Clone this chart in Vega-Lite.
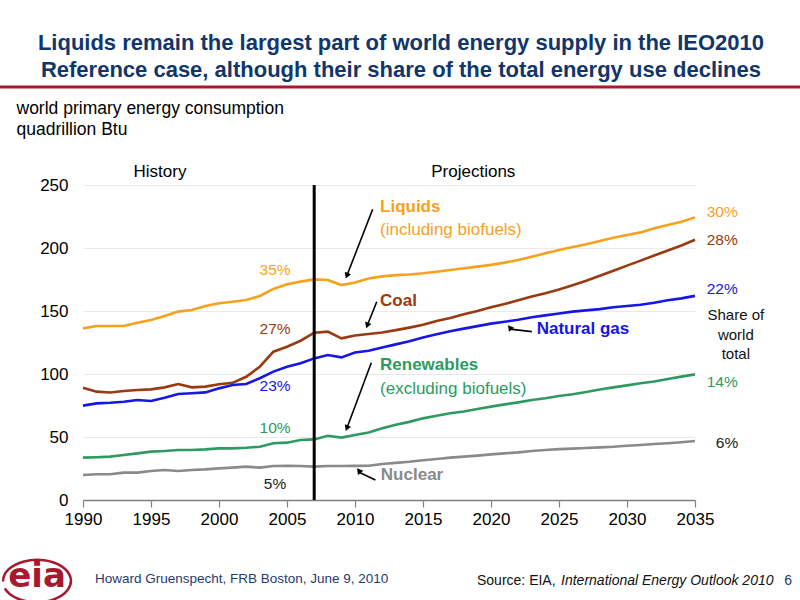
{
  "$schema": "https://vega.github.io/schema/vega-lite/v6.json",
  "width": 612,
  "height": 315,
  "autosize": {"type": "none"},
  "padding": {"left": 83, "top": 185, "right": 105, "bottom": 100},
  "background": "white",
  "config": {"view": {"stroke": null}, "font": "Liberation Sans", "text": {"font": "Liberation Sans"}},
  "datasets": {
    "energy": [
      {"year": 1990, "Liquids": 136.2, "Coal": 89.0, "Natural gas": 74.9, "Renewables": 33.6, "Nuclear": 19.8},
      {"year": 1991, "Liquids": 138.1, "Coal": 86.0, "Natural gas": 76.7, "Renewables": 33.9, "Nuclear": 20.4},
      {"year": 1992, "Liquids": 138.1, "Coal": 85.3, "Natural gas": 77.2, "Renewables": 34.4, "Nuclear": 20.4},
      {"year": 1993, "Liquids": 138.1, "Coal": 86.5, "Natural gas": 78.0, "Renewables": 35.7, "Nuclear": 21.7},
      {"year": 1994, "Liquids": 140.7, "Coal": 87.3, "Natural gas": 79.4, "Renewables": 37.0, "Nuclear": 21.7},
      {"year": 1995, "Liquids": 142.9, "Coal": 87.8, "Natural gas": 78.6, "Renewables": 38.4, "Nuclear": 23.0},
      {"year": 1996, "Liquids": 146.0, "Coal": 89.4, "Natural gas": 81.2, "Renewables": 38.9, "Nuclear": 23.8},
      {"year": 1997, "Liquids": 149.5, "Coal": 92.0, "Natural gas": 84.1, "Renewables": 39.7, "Nuclear": 23.0},
      {"year": 1998, "Liquids": 150.8, "Coal": 89.4, "Natural gas": 84.7, "Renewables": 39.7, "Nuclear": 23.8},
      {"year": 1999, "Liquids": 154.0, "Coal": 90.0, "Natural gas": 85.4, "Renewables": 40.2, "Nuclear": 24.3},
      {"year": 2000, "Liquids": 156.1, "Coal": 91.8, "Natural gas": 88.6, "Renewables": 41.0, "Nuclear": 25.1},
      {"year": 2001, "Liquids": 157.4, "Coal": 93.0, "Natural gas": 91.3, "Renewables": 41.0, "Nuclear": 25.7},
      {"year": 2002, "Liquids": 158.7, "Coal": 97.8, "Natural gas": 92.1, "Renewables": 41.5, "Nuclear": 26.5},
      {"year": 2003, "Liquids": 161.9, "Coal": 105.8, "Natural gas": 96.6, "Renewables": 42.3, "Nuclear": 25.7},
      {"year": 2004, "Liquids": 167.5, "Coal": 117.7, "Natural gas": 101.9, "Renewables": 45.0, "Nuclear": 27.0},
      {"year": 2005, "Liquids": 171.2, "Coal": 121.6, "Natural gas": 105.8, "Renewables": 45.5, "Nuclear": 27.2},
      {"year": 2006, "Liquids": 173.3, "Coal": 126.4, "Natural gas": 108.5, "Renewables": 47.6, "Nuclear": 27.0},
      {"year": 2007, "Liquids": 175.1, "Coal": 132.8, "Natural gas": 112.4, "Renewables": 48.1, "Nuclear": 26.5},
      {"year": 2008, "Liquids": 174.6, "Coal": 133.6, "Natural gas": 115.1, "Renewables": 51.0, "Nuclear": 27.0},
      {"year": 2009, "Liquids": 170.6, "Coal": 128.3, "Natural gas": 113.2, "Renewables": 49.5, "Nuclear": 27.0},
      {"year": 2010, "Liquids": 172.6, "Coal": 130.5, "Natural gas": 117.0, "Renewables": 51.6, "Nuclear": 27.1},
      {"year": 2011, "Liquids": 175.8, "Coal": 131.8, "Natural gas": 118.5, "Renewables": 53.5, "Nuclear": 27.2},
      {"year": 2012, "Liquids": 177.5, "Coal": 133.0, "Natural gas": 121.0, "Renewables": 56.9, "Nuclear": 28.6},
      {"year": 2013, "Liquids": 178.5, "Coal": 134.8, "Natural gas": 123.5, "Renewables": 59.8, "Nuclear": 29.5},
      {"year": 2014, "Liquids": 179.0, "Coal": 136.8, "Natural gas": 126.0, "Renewables": 62.0, "Nuclear": 30.4},
      {"year": 2015, "Liquids": 179.9, "Coal": 139.0, "Natural gas": 129.0, "Renewables": 64.8, "Nuclear": 31.6},
      {"year": 2016, "Liquids": 181.2, "Coal": 142.0, "Natural gas": 131.5, "Renewables": 66.9, "Nuclear": 32.5},
      {"year": 2017, "Liquids": 182.5, "Coal": 144.5, "Natural gas": 134.0, "Renewables": 68.8, "Nuclear": 33.6},
      {"year": 2018, "Liquids": 183.9, "Coal": 147.5, "Natural gas": 136.0, "Renewables": 70.3, "Nuclear": 34.4},
      {"year": 2019, "Liquids": 185.2, "Coal": 150.0, "Natural gas": 138.0, "Renewables": 72.2, "Nuclear": 35.2},
      {"year": 2020, "Liquids": 186.6, "Coal": 153.0, "Natural gas": 140.0, "Renewables": 74.1, "Nuclear": 36.2},
      {"year": 2021, "Liquids": 188.4, "Coal": 155.5, "Natural gas": 141.5, "Renewables": 75.9, "Nuclear": 37.0},
      {"year": 2022, "Liquids": 190.5, "Coal": 158.5, "Natural gas": 143.0, "Renewables": 77.5, "Nuclear": 37.8},
      {"year": 2023, "Liquids": 193.1, "Coal": 161.5, "Natural gas": 145.0, "Renewables": 79.3, "Nuclear": 38.9},
      {"year": 2024, "Liquids": 195.8, "Coal": 164.0, "Natural gas": 146.5, "Renewables": 80.7, "Nuclear": 39.7},
      {"year": 2025, "Liquids": 198.4, "Coal": 167.0, "Natural gas": 148.0, "Renewables": 82.5, "Nuclear": 40.4},
      {"year": 2026, "Liquids": 200.8, "Coal": 170.5, "Natural gas": 149.5, "Renewables": 83.9, "Nuclear": 40.8},
      {"year": 2027, "Liquids": 202.9, "Coal": 174.0, "Natural gas": 150.5, "Renewables": 85.7, "Nuclear": 41.3},
      {"year": 2028, "Liquids": 205.6, "Coal": 178.0, "Natural gas": 151.5, "Renewables": 87.7, "Nuclear": 41.8},
      {"year": 2029, "Liquids": 208.2, "Coal": 182.0, "Natural gas": 153.0, "Renewables": 89.4, "Nuclear": 42.3},
      {"year": 2030, "Liquids": 210.3, "Coal": 186.0, "Natural gas": 154.0, "Renewables": 91.0, "Nuclear": 43.1},
      {"year": 2031, "Liquids": 212.4, "Coal": 190.0, "Natural gas": 155.0, "Renewables": 92.6, "Nuclear": 43.7},
      {"year": 2032, "Liquids": 215.6, "Coal": 194.0, "Natural gas": 156.5, "Renewables": 94.0, "Nuclear": 44.4},
      {"year": 2033, "Liquids": 218.3, "Coal": 198.0, "Natural gas": 158.5, "Renewables": 96.0, "Nuclear": 45.0},
      {"year": 2034, "Liquids": 220.9, "Coal": 202.0, "Natural gas": 160.0, "Renewables": 97.9, "Nuclear": 45.8},
      {"year": 2035, "Liquids": 224.3, "Coal": 206.5, "Natural gas": 162.0, "Renewables": 99.7, "Nuclear": 46.8}
    ],
    "names": [
      {"text": "Liquids", "series": "Liquids", "year": 2011.84, "value": 232.5},
      {"text": "Coal", "series": "Coal", "year": 2011.84, "value": 158},
      {"text": "Natural gas", "series": "Natural gas", "year": 2023.36, "value": 135.5},
      {"text": "Renewables", "series": "Renewables", "year": 2011.84, "value": 107},
      {"text": "Nuclear", "series": "Nuclear", "year": 2011.9, "value": 19.8}
    ],
    "notes": [
      {"text": "(including biofuels)", "series": "Liquids", "year": 2011.84, "value": 214.5},
      {"text": "(excluding biofuels)", "series": "Renewables", "year": 2011.84, "value": 87.8}
    ],
    "shares": [
      {"text": "35%", "series": "Liquids", "year": 2004.12, "value": 182.5},
      {"text": "27%", "series": "Coal", "year": 2004.12, "value": 135.4},
      {"text": "23%", "series": "Natural gas", "year": 2004.12, "value": 90.5},
      {"text": "10%", "series": "Renewables", "year": 2004.12, "value": 57.4},
      {"text": "5%", "series": "Share", "year": 2004.12, "value": 12.4},
      {"text": "30%", "series": "Liquids", "year": 2037.0, "value": 228.3},
      {"text": "28%", "series": "Coal", "year": 2037.0, "value": 206.3},
      {"text": "22%", "series": "Natural gas", "year": 2037.0, "value": 167.2},
      {"text": "14%", "series": "Renewables", "year": 2037.0, "value": 93.9},
      {"text": "6%", "series": "Share", "year": 2037.35, "value": 45.5}
    ],
    "shareNote": [
      {"text": "Share of", "year": 2038.0, "value": 146.8},
      {"text": "world", "year": 2038.0, "value": 131},
      {"text": "total", "year": 2038.0, "value": 115.6}
    ],
    "periods": [
      {"text": "History", "year": 1995.66, "value": 260},
      {"text": "Projections", "year": 2018.7, "value": 260}
    ],
    "arrows": [
      {"name": "Liquids", "x": 2011.3, "y": 230.7, "x2": 2009.4, "y2": 178},
      {"name": "Coal", "x": 2011.6, "y": 157.4, "x2": 2010.9, "y2": 138.5},
      {"name": "Natural gas", "x": 2023.0, "y": 133.6, "x2": 2021.4, "y2": 135.6},
      {"name": "Renewables", "x": 2011.2, "y": 109, "x2": 2009.4, "y2": 57},
      {"name": "Nuclear", "x": 2011.5, "y": 15.9, "x2": 2010.3, "y2": 22}
    ],
    "headline": [
      {"text": "Liquids remain the largest part of world energy supply in the IEO2010", "year": 2013.38, "value": 357.1},
      {"text": "Reference case, although their share of the total energy use declines", "year": 2013.38, "value": 336.0}
    ],
    "byline": [
      {"text": "Howard Gruenspecht, FRB Boston, June 9, 2010", "year": 1990.88, "value": -62.7}
    ],
    "source": [
      {"text": "Source:  EIA,", "year": 2018.97, "value": -64}
    ],
    "sourceTitle": [
      {"text": "International Energy Outlook 2010", "year": 2025.15, "value": -64}
    ],
    "page": [
      {"text": "6", "year": 2041.84, "value": -64}
    ],
    "logo": [
      {"text": "eia", "year": 1986.62, "value": -62}
    ]
  },
  "layer": [
    {
      "data": {"name": "energy"},
      "transform": [{"fold": ["Liquids", "Coal", "Natural gas", "Renewables", "Nuclear"], "as": ["source", "value"]}],
      "mark": {"type": "line", "strokeWidth": 2.6, "clip": false},
      "encoding": {
        "x": {
          "field": "year", "type": "quantitative",
          "scale": {"domain": [1990, 2035], "nice": false, "zero": false},
          "axis": {
            "title": null, "values": [1990, 1995, 2000, 2005, 2010, 2015, 2020, 2025, 2030, 2035],
            "format": "d", "grid": false, "labelFontSize": 17, "labelColor": "black",
            "labelFlush": false, "labelOverlap": false, "labelBound": false,
            "labelPadding": 4, "tickSize": 7, "tickColor": "#808080", "tickWidth": 1.2,
            "domainColor": "#808080", "domainWidth": 1.5
          }
        },
        "y": {
          "field": "value", "type": "quantitative",
          "scale": {"domain": [0, 250], "nice": false},
          "axis": {
            "values": [0, 50, 100, 150, 200, 250], "labelFontSize": 17, "labelColor": "black",
            "labelFlush": false, "labelOverlap": false,
            "labelPadding": 15, "ticks": false, "domain": false, "gridColor": "#e9e9e9",
            "title": ["world primary energy consumption", "quadrillion Btu"],
            "titleAngle": 0, "titleAlign": "left", "titleBaseline": "alphabetic",
            "titleX": -67, "titleY": -72, "titleFontSize": 17.5, "titleFontWeight": "normal",
            "titleLineHeight": 21, "titleColor": "black"
          }
        },
        "color": {
          "field": "source", "type": "nominal", "legend": null,
          "scale": {
            "domain": ["Liquids", "Coal", "Natural gas", "Renewables", "Nuclear", "Share"],
            "range": ["#F7A11C", "#9A3A10", "#1616E6", "#2E9A62", "#8A8A8A", "#222222"]
          }
        }
      }
    },
    {
      "mark": {"type": "rule", "color": "black", "strokeWidth": 3},
      "encoding": {"x": {"datum": 2007}, "y": {"datum": 0}, "y2": {"datum": 250}}
    },
    {
      "mark": {"type": "rule", "color": "#A6192E", "strokeWidth": 3, "clip": false},
      "encoding": {"x": {"datum": 1983.9}, "x2": {"datum": 2042.8}, "y": {"datum": 327.8}}
    },
    {
      "data": {"name": "arrows"},
      "mark": {"type": "rule", "color": "black", "strokeWidth": 1.6},
      "encoding": {
        "x": {"field": "x", "type": "quantitative"},
        "y": {"field": "y", "type": "quantitative"},
        "x2": {"field": "x2"},
        "y2": {"field": "y2"}
      }
    },
    {
      "data": {"name": "arrows"},
      "mark": {"type": "point", "shape": "triangle-up", "filled": true, "color": "black", "size": 45, "opacity": 1},
      "encoding": {
        "x": {"field": "x2", "type": "quantitative"},
        "y": {"field": "y2", "type": "quantitative"},
        "angle": {
          "field": "name", "type": "nominal", "legend": null,
          "scale": {"domain": ["Liquids", "Coal", "Natural gas", "Renewables", "Nuclear"], "range": [201, 202, 277, 201, 295]}
        }
      }
    },
    {
      "data": {"name": "names"},
      "mark": {"type": "text", "align": "left", "baseline": "middle", "fontSize": 17, "fontWeight": "bold"},
      "encoding": {
        "x": {"field": "year", "type": "quantitative"},
        "y": {"field": "value", "type": "quantitative"},
        "text": {"field": "text"},
        "color": {"field": "series", "type": "nominal", "legend": null}
      }
    },
    {
      "data": {"name": "notes"},
      "mark": {"type": "text", "align": "left", "baseline": "middle", "fontSize": 17},
      "encoding": {
        "x": {"field": "year", "type": "quantitative"},
        "y": {"field": "value", "type": "quantitative"},
        "text": {"field": "text"},
        "color": {"field": "series", "type": "nominal", "legend": null}
      }
    },
    {
      "data": {"name": "shares"},
      "mark": {"type": "text", "align": "center", "baseline": "middle", "fontSize": 15.5},
      "encoding": {
        "x": {"field": "year", "type": "quantitative"},
        "y": {"field": "value", "type": "quantitative"},
        "text": {"field": "text"},
        "color": {"field": "series", "type": "nominal", "legend": null}
      }
    },
    {
      "data": {"name": "shareNote"},
      "mark": {"type": "text", "align": "center", "baseline": "middle", "fontSize": 15, "color": "#111111"},
      "encoding": {
        "x": {"field": "year", "type": "quantitative"},
        "y": {"field": "value", "type": "quantitative"},
        "text": {"field": "text"}
      }
    },
    {
      "data": {"name": "periods"},
      "mark": {"type": "text", "align": "center", "baseline": "middle", "fontSize": 17, "color": "black"},
      "encoding": {
        "x": {"field": "year", "type": "quantitative"},
        "y": {"field": "value", "type": "quantitative"},
        "text": {"field": "text"}
      }
    },
    {
      "data": {"name": "headline"},
      "mark": {"type": "text", "align": "center", "baseline": "alphabetic", "fontSize": 22, "fontWeight": "bold", "color": "#10366B"},
      "encoding": {
        "x": {"field": "year", "type": "quantitative"},
        "y": {"field": "value", "type": "quantitative"},
        "text": {"field": "text"}
      }
    },
    {
      "data": {"name": "byline"},
      "mark": {"type": "text", "align": "left", "baseline": "middle", "fontSize": 13.5, "color": "#1F3A6E"},
      "encoding": {
        "x": {"field": "year", "type": "quantitative"},
        "y": {"field": "value", "type": "quantitative"},
        "text": {"field": "text"}
      }
    },
    {
      "data": {"name": "source"},
      "mark": {"type": "text", "align": "left", "baseline": "middle", "fontSize": 14, "color": "#111111"},
      "encoding": {
        "x": {"field": "year", "type": "quantitative"},
        "y": {"field": "value", "type": "quantitative"},
        "text": {"field": "text"}
      }
    },
    {
      "data": {"name": "sourceTitle"},
      "mark": {"type": "text", "align": "left", "baseline": "middle", "fontSize": 14, "fontStyle": "italic", "color": "#111111"},
      "encoding": {
        "x": {"field": "year", "type": "quantitative"},
        "y": {"field": "value", "type": "quantitative"},
        "text": {"field": "text"}
      }
    },
    {
      "data": {"name": "page"},
      "mark": {"type": "text", "align": "center", "baseline": "middle", "fontSize": 14, "color": "#1F3A6E"},
      "encoding": {
        "x": {"field": "year", "type": "quantitative"},
        "y": {"field": "value", "type": "quantitative"},
        "text": {"field": "text"}
      }
    },
    {
      "data": {"name": "logo"},
      "mark": {"type": "point", "shape": "M -1 0.1 A 1 0.62 0 1 1 0.9 0.35 M 0.9 0.35 A 1 0.62 0 0 1 -0.95 0.3", "filled": false, "stroke": "#A6192E", "strokeWidth": 2.5, "size": 4600, "opacity": 1},
      "encoding": {
        "x": {"field": "year", "type": "quantitative"},
        "y": {"field": "value", "type": "quantitative"}
      }
    },
    {
      "data": {"name": "logo"},
      "mark": {"type": "text", "align": "center", "baseline": "middle", "fontSize": 34, "fontWeight": "bold", "color": "#A6192E", "font": "DejaVu Sans", "dy": -1},
      "encoding": {
        "x": {"field": "year", "type": "quantitative"},
        "y": {"field": "value", "type": "quantitative"},
        "text": {"field": "text"}
      }
    }
  ]
}
